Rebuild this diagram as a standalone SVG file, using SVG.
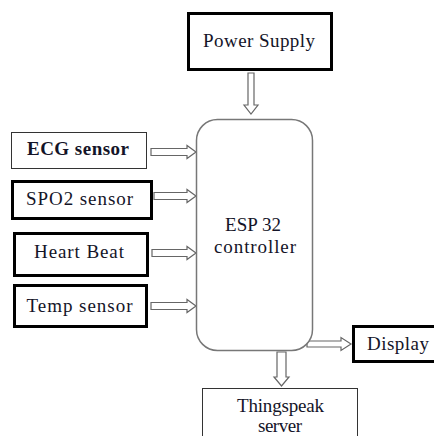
<svg xmlns="http://www.w3.org/2000/svg" width="434" height="436" viewBox="0 0 434 436">
<style>
.thick{fill:#fff;stroke:#000;stroke-width:3}
.thin{fill:#fff;stroke:#333;stroke-width:1}
.core{fill:#fff;stroke:#777;stroke-width:1.5}
.arr{fill:#fff;stroke:#666;stroke-width:1.2;stroke-linejoin:miter}
text{font-family:"Liberation Serif","DejaVu Serif",serif;font-size:19px;fill:#141428}
.b{font-weight:bold}
</style>
<rect width="434" height="436" fill="#fff"/>
<g id="connectors">
<polygon class="arr" points="248,73 254,73 254,105 258,105 251,114 244,105 248,105"/>
<polygon class="arr" points="151,148.5 187,148.5 187,145.5 196,152 187,158.5 187,155.5 151,155.5"/>
<polygon class="arr" points="154,192.5 187,192.5 187,189.5 196,196 187,202.5 187,199.5 154,199.5"/>
<polygon class="arr" points="152,249.5 187,249.5 187,246.5 196,253 187,259.5 187,256.5 152,256.5"/>
<polygon class="arr" points="151,302.5 187,302.5 187,299.5 196,306 187,312.5 187,309.5 151,309.5"/>
<polygon class="arr" points="307,341 341,341 341,337.5 351,344 341,350.5 341,347 307,347"/>
<polygon class="arr" points="277,352 286,352 286,377 289,377 281.5,386 274,377 277,377"/>
</g>
<g id="esp32">
<rect class="core" x="196.5" y="119.5" width="116" height="231" rx="21" ry="21"/>
<text x="253" y="231" text-anchor="middle">ESP 32</text>
<text x="255" y="253" text-anchor="middle" textLength="82">controller</text>
</g>
<g id="power">
<rect class="thick" x="188.5" y="13.5" width="143" height="56"/>
<text x="259" y="47" text-anchor="middle" textLength="112">Power Supply</text>
</g>
<g id="ecg">
<rect class="thin" x="11.5" y="132.5" width="135" height="36"/>
<text class="b" x="78" y="155" text-anchor="middle" textLength="102">ECG sensor</text>
</g>
<g id="spo2">
<rect class="thick" x="12.5" y="181.5" width="139" height="37"/>
<text x="79.5" y="205" text-anchor="middle" textLength="107">SPO2 sensor</text>
</g>
<g id="heart">
<rect class="thick" x="14.5" y="233.5" width="133" height="42"/>
<text x="79" y="258" text-anchor="middle" textLength="90">Heart Beat</text>
</g>
<g id="temp">
<rect class="thick" x="14.5" y="285.5" width="132" height="41"/>
<text x="79.5" y="312" text-anchor="middle" textLength="106">Temp sensor</text>
</g>
<g id="display">
<rect class="thick" x="353.5" y="326.5" width="90" height="35"/>
<text x="398" y="350" text-anchor="middle" textLength="62">Display</text>
</g>
<g id="thingspeak">
<rect class="thin" x="202.5" y="388.5" width="155" height="60"/>
<text x="280.5" y="412" text-anchor="middle" textLength="87">Thingspeak</text>
<text x="280" y="432" text-anchor="middle" textLength="44">server</text>
</g>
</svg>
